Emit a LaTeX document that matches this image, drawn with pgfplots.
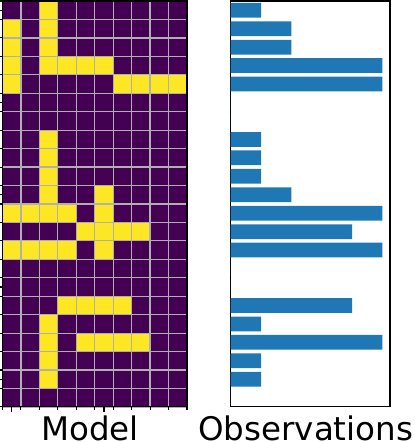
\documentclass[border=0pt]{standalone}
\usepackage{pgfplots}
\pgfplotsset{compat=1.18}
\usepackage{fontspec}
\setmainfont{DejaVu Sans}
\definecolor{gridgray}{RGB}{176,176,176}
\definecolor{barblue}{RGB}{31,119,180}

\pgfplotsset{
  panel/.style={
    scale only axis,
    height=405.9pt,
    y dir=reverse,
    ymin=-0.5, ymax=21.5,
    axis line style={black, line width=1.1pt},
    every axis x label/.style={at={(axis description cs:0.5,0)}, anchor=base,
      inner sep=0pt, yshift=-33.5pt, xshift=-4.6pt, font=\fontsize{32.5}{36}\selectfont},
  },
}

\begin{document}
\begin{tikzpicture}
\path[use as bounding box] (0,0) rectangle (415pt,-442pt);

% left panel: binary model matrix
\begin{axis}[
  panel,
  at={(2.5pt,-1pt)}, anchor=north west,
  width=184.5pt,
  xmin=-0.5, xmax=9.5,
  enlargelimits=false,
  axis on top,
  colormap={vir}{rgb255=(68,1,84) rgb255=(253,231,37)},
  point meta min=0, point meta max=1,
  xtick={0,5}, ytick={0,5,10,15,20},
  minor xtick={-0.5,0.5,...,9.5},
  minor ytick={-0.5,0.5,...,21.5},
  xticklabels={,}, yticklabels={,},
  xtick pos=bottom, ytick pos=left,
  tick align=outside,
  major tick length=4.9pt, minor tick length=2.8pt,
  tick style={black, line width=1.1pt},
  grid=minor,
  minor grid style={gridgray, line width=1.2pt},
  xlabel={Model},
]
\addplot[matrix plot*, mesh/cols=10, point meta=explicit] coordinates {
(0,0)[0] (1,0)[0] (2,0)[1] (3,0)[0] (4,0)[0] (5,0)[0] (6,0)[0] (7,0)[0] (8,0)[0] (9,0)[0]
(0,1)[1] (1,1)[0] (2,1)[1] (3,1)[0] (4,1)[0] (5,1)[0] (6,1)[0] (7,1)[0] (8,1)[0] (9,1)[0]
(0,2)[1] (1,2)[0] (2,2)[1] (3,2)[0] (4,2)[0] (5,2)[0] (6,2)[0] (7,2)[0] (8,2)[0] (9,2)[0]
(0,3)[1] (1,3)[0] (2,3)[1] (3,3)[1] (4,3)[1] (5,3)[1] (6,3)[0] (7,3)[0] (8,3)[0] (9,3)[0]
(0,4)[1] (1,4)[0] (2,4)[0] (3,4)[0] (4,4)[0] (5,4)[0] (6,4)[1] (7,4)[1] (8,4)[1] (9,4)[1]
(0,5)[0] (1,5)[0] (2,5)[0] (3,5)[0] (4,5)[0] (5,5)[0] (6,5)[0] (7,5)[0] (8,5)[0] (9,5)[0]
(0,6)[0] (1,6)[0] (2,6)[0] (3,6)[0] (4,6)[0] (5,6)[0] (6,6)[0] (7,6)[0] (8,6)[0] (9,6)[0]
(0,7)[0] (1,7)[0] (2,7)[1] (3,7)[0] (4,7)[0] (5,7)[0] (6,7)[0] (7,7)[0] (8,7)[0] (9,7)[0]
(0,8)[0] (1,8)[0] (2,8)[1] (3,8)[0] (4,8)[0] (5,8)[0] (6,8)[0] (7,8)[0] (8,8)[0] (9,8)[0]
(0,9)[0] (1,9)[0] (2,9)[1] (3,9)[0] (4,9)[0] (5,9)[0] (6,9)[0] (7,9)[0] (8,9)[0] (9,9)[0]
(0,10)[0] (1,10)[0] (2,10)[1] (3,10)[0] (4,10)[0] (5,10)[1] (6,10)[0] (7,10)[0] (8,10)[0] (9,10)[0]
(0,11)[1] (1,11)[1] (2,11)[1] (3,11)[1] (4,11)[0] (5,11)[1] (6,11)[0] (7,11)[0] (8,11)[0] (9,11)[0]
(0,12)[0] (1,12)[0] (2,12)[0] (3,12)[0] (4,12)[1] (5,12)[1] (6,12)[1] (7,12)[1] (8,12)[0] (9,12)[0]
(0,13)[1] (1,13)[1] (2,13)[1] (3,13)[1] (4,13)[0] (5,13)[1] (6,13)[0] (7,13)[0] (8,13)[0] (9,13)[0]
(0,14)[0] (1,14)[0] (2,14)[0] (3,14)[0] (4,14)[0] (5,14)[0] (6,14)[0] (7,14)[0] (8,14)[0] (9,14)[0]
(0,15)[0] (1,15)[0] (2,15)[0] (3,15)[0] (4,15)[0] (5,15)[0] (6,15)[0] (7,15)[0] (8,15)[0] (9,15)[0]
(0,16)[0] (1,16)[0] (2,16)[0] (3,16)[1] (4,16)[1] (5,16)[1] (6,16)[1] (7,16)[0] (8,16)[0] (9,16)[0]
(0,17)[0] (1,17)[0] (2,17)[1] (3,17)[0] (4,17)[0] (5,17)[0] (6,17)[0] (7,17)[0] (8,17)[0] (9,17)[0]
(0,18)[0] (1,18)[0] (2,18)[1] (3,18)[0] (4,18)[1] (5,18)[1] (6,18)[1] (7,18)[1] (8,18)[0] (9,18)[0]
(0,19)[0] (1,19)[0] (2,19)[1] (3,19)[0] (4,19)[0] (5,19)[0] (6,19)[0] (7,19)[0] (8,19)[0] (9,19)[0]
(0,20)[0] (1,20)[0] (2,20)[1] (3,20)[0] (4,20)[0] (5,20)[0] (6,20)[0] (7,20)[0] (8,20)[0] (9,20)[0]
(0,21)[0] (1,21)[0] (2,21)[0] (3,21)[0] (4,21)[0] (5,21)[0] (6,21)[0] (7,21)[0] (8,21)[0] (9,21)[0]
};
\end{axis}

% right panel: observations (row sums)
\begin{axis}[
  panel,
  at={(230.7pt,-1pt)}, anchor=north west,
  width=159.3pt,
  xmin=0, xmax=5.25,
  xtick=\empty, ytick=\empty,
  xlabel={Observations},
]
\addplot[xbar, bar width=0.8, fill=barblue, draw=none] coordinates {
(1,0) (2,1) (2,2) (5,3) (5,4) (0,5) (0,6) (1,7) (1,8) (1,9) (2,10)
(5,11) (4,12) (5,13) (0,14) (0,15) (4,16) (1,17) (5,18) (1,19) (1,20) (0,21)
};
\end{axis}
\end{tikzpicture}
\end{document}
